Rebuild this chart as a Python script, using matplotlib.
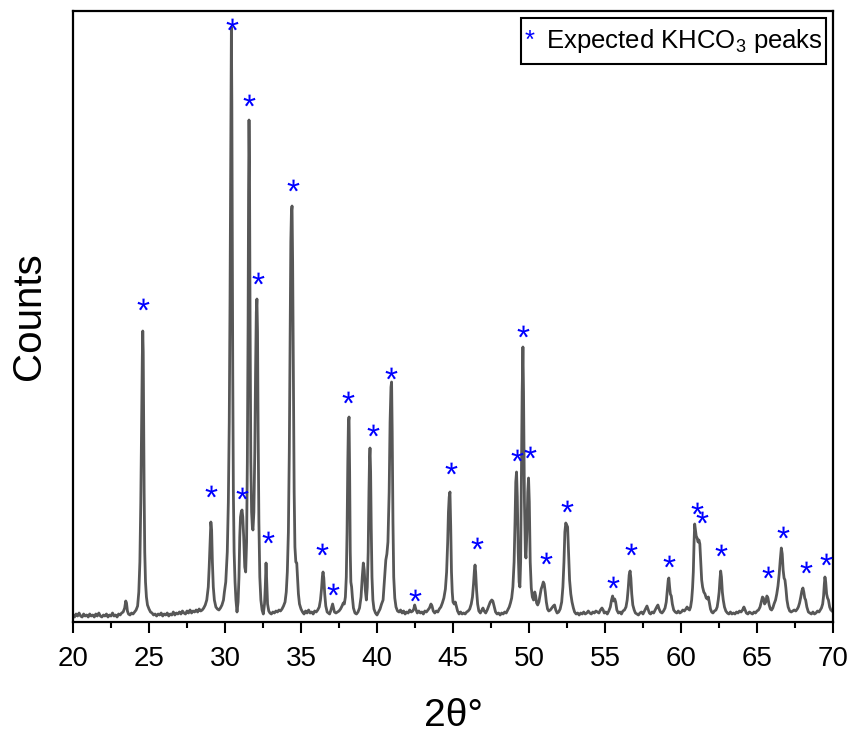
import numpy as np
import matplotlib
matplotlib.use("Agg")
import matplotlib.pyplot as plt
from matplotlib.path import Path
from matplotlib.textpath import TextPath
from matplotlib.font_manager import FontProperties
from matplotlib.offsetbox import TextArea, HPacker, VPacker, DrawingArea, AnchoredOffsetbox
from matplotlib.ticker import MultipleLocator

plt.rcParams['font.family'] = ['Liberation Sans', 'DejaVu Sans']
plt.rcParams['mathtext.fontset'] = 'custom'
plt.rcParams['mathtext.rm'] = 'Liberation Sans'
plt.rcParams['mathtext.it'] = 'Liberation Sans:italic'
plt.rcParams['mathtext.bf'] = 'Liberation Sans:bold'
plt.rcParams['mathtext.default'] = 'regular'

# ---- XRD pattern, 2theta (deg) and counts, split by angular range ----
theta_20_30 = [20.0, 20.1, 20.2, 20.3, 20.4, 20.5, 20.6, 20.7, 20.8, 20.9,
               21.0, 21.1, 21.2, 21.3, 21.4, 21.5, 21.6, 21.7, 21.8, 21.9,
               22.0, 22.1, 22.2, 22.3, 22.4, 22.5, 22.6, 22.7, 22.8, 22.9,
               23.0, 23.1, 23.2, 23.3, 23.4, 23.47, 23.52, 23.58, 23.65, 23.75,
               23.85, 23.95, 24.05, 24.15, 24.25, 24.33, 24.4, 24.46, 24.5, 24.53,
               24.56, 24.59, 24.62, 24.65, 24.68, 24.72, 24.77, 24.83, 24.9, 25.0,
               25.1, 25.2, 25.3, 25.4, 25.5, 25.6, 25.7, 25.8, 25.9, 26.0,
               26.1, 26.2, 26.3, 26.4, 26.5, 26.6, 26.7, 26.8, 26.9, 27.0,
               27.1, 27.2, 27.3, 27.4, 27.5, 27.6, 27.7, 27.8, 27.9, 28.0,
               28.1, 28.2, 28.3, 28.4, 28.5, 28.6, 28.7, 28.8, 28.9, 28.96,
               29.02, 29.07, 29.12, 29.17, 29.23, 29.3, 29.4, 29.5, 29.6, 29.7,
               29.8, 29.9, 29.96]
counts_20_30 = [7, 5, 8, 6, 9, 6, 5, 8, 6, 7,
                5, 8, 6, 7, 5, 8, 6, 9, 6, 5,
                7, 6, 8, 5, 7, 6, 9, 6, 7, 5,
                8, 7, 9, 10, 14, 21, 19, 11, 8, 7,
                9, 8, 10, 12, 16, 30, 60, 120, 180, 220,
                265, 291, 270, 200, 130, 70, 40, 25, 17, 13,
                10, 9, 7, 8, 6, 8, 7, 9, 6, 8,
                7, 9, 6, 8, 7, 10, 7, 9, 8, 10,
                8, 11, 9, 8, 11, 9, 12, 9, 11, 10,
                12, 10, 13, 11, 12, 14, 17, 22, 35, 55,
                80, 100, 92, 60, 35, 22, 15, 13, 12, 14,
                17, 22, 30]

theta_30_36 = [30.05, 30.15, 30.22, 30.28, 30.33, 30.37, 30.42, 30.45, 30.48, 30.51,
               30.55, 30.6, 30.66, 30.72, 30.79, 30.86, 30.92, 30.97, 31.02, 31.07,
               31.12, 31.17, 31.23, 31.3, 31.36, 31.42, 31.47, 31.52, 31.55, 31.58,
               31.61, 31.65, 31.7, 31.75, 31.8, 31.84, 31.9, 31.96, 32.01, 32.06,
               32.1, 32.14, 32.18, 32.23, 32.29, 32.36, 32.44, 32.52, 32.6, 32.65,
               32.7, 32.75, 32.8, 32.88, 32.96, 33.05, 33.15, 33.25, 33.35, 33.45,
               33.55, 33.65, 33.75, 33.85, 33.95, 34.03, 34.1, 34.17, 34.23, 34.28,
               34.33, 34.37, 34.41, 34.45, 34.5, 34.55, 34.6, 34.66, 34.72, 34.77,
               34.83, 34.9, 35.0, 35.1, 35.2, 35.3, 35.4, 35.5, 35.6, 35.7,
               35.8, 35.9, 36.0]
counts_30_36 = [40, 70, 120, 200, 320, 450, 595, 520, 380, 250,
                130, 70, 40, 22, 10, 20, 45, 85, 105, 110,
                112, 105, 85, 55, 50, 80, 160, 300, 430, 502,
                460, 300, 160, 110, 95, 92, 110, 170, 250, 310,
                323, 290, 190, 100, 45, 22, 12, 8, 18, 35,
                59, 38, 18, 11, 9, 8, 10, 9, 11, 10,
                12, 11, 13, 16, 20, 30, 50, 90, 170, 280,
                380, 410, 416, 360, 240, 130, 75, 60, 59, 45,
                28, 18, 13, 10, 8, 11, 9, 12, 9, 10,
                8, 11, 10]

theta_36_44 = [36.1, 36.2, 36.28, 36.35, 36.41, 36.45, 36.5, 36.56, 36.63, 36.72,
               36.8, 36.88, 36.95, 37.02, 37.08, 37.14, 37.2, 37.3, 37.4, 37.5,
               37.6, 37.7, 37.78, 37.85, 37.92, 37.98, 38.03, 38.08, 38.12, 38.16,
               38.2, 38.24, 38.28, 38.33, 38.38, 38.45, 38.55, 38.65, 38.75, 38.85,
               38.95, 39.03, 39.1, 39.16, 39.23, 39.3, 39.36, 39.42, 39.47, 39.51,
               39.54, 39.58, 39.62, 39.67, 39.73, 39.8, 39.9, 40.0, 40.1, 40.2,
               40.3, 40.4, 40.5, 40.58, 40.65, 40.72, 40.8, 40.86, 40.92, 40.96,
               41.0, 41.05, 41.1, 41.17, 41.25, 41.35, 41.45, 41.55, 41.65, 41.75,
               41.85, 41.95, 42.05, 42.15, 42.25, 42.35, 42.42, 42.48, 42.55, 42.65,
               42.75, 42.85, 42.95, 43.05, 43.15, 43.25, 43.35, 43.45, 43.55, 43.62,
               43.7, 43.8, 43.9]
counts_36_44 = [12, 15, 22, 33, 46, 50, 44, 28, 16, 10,
                9, 8, 11, 15, 18, 14, 10, 9, 10, 11,
                13, 16, 19, 18, 25, 45, 90, 160, 200, 205,
                150, 70, 40, 35, 25, 14, 9, 8, 10, 14,
                25, 45, 59, 52, 32, 22, 35, 70, 130, 165,
                174, 150, 95, 45, 22, 13, 9, 7, 10, 13,
                18, 22, 45, 62, 68, 80, 130, 200, 235, 240,
                190, 100, 45, 24, 15, 11, 10, 12, 9, 11,
                8, 10, 9, 12, 10, 11, 13, 17, 13, 9,
                11, 9, 10, 8, 11, 10, 12, 14, 18, 16,
                11, 9, 11]

theta_44_53 = [44.0, 44.1, 44.2, 44.3, 44.4, 44.5, 44.58, 44.65, 44.7, 44.75,
               44.8, 44.85, 44.9, 44.95, 45.0, 45.08, 45.15, 45.22, 45.3, 45.4,
               45.5, 45.6, 45.7, 45.8, 45.9, 46.0, 46.1, 46.2, 46.28, 46.35,
               46.41, 46.45, 46.49, 46.55, 46.62, 46.7, 46.8, 46.9, 46.97, 47.05,
               47.15, 47.25, 47.35, 47.45, 47.55, 47.62, 47.7, 47.8, 47.9, 48.0,
               48.1, 48.2, 48.3, 48.4, 48.5, 48.6, 48.7, 48.78, 48.86, 48.94,
               49.02, 49.08, 49.13, 49.18, 49.23, 49.29, 49.35, 49.4, 49.45, 49.5,
               49.55, 49.6, 49.64, 49.7, 49.76, 49.8, 49.86, 49.92, 49.97, 50.02,
               50.08, 50.15, 50.22, 50.3, 50.38, 50.44, 50.5, 50.57, 50.65, 50.72,
               50.8, 50.87, 50.94, 51.0, 51.07, 51.14, 51.22, 51.3, 51.4, 51.5,
               51.6, 51.68, 51.76, 51.85, 51.95, 52.05, 52.15, 52.23, 52.3, 52.36,
               52.42, 52.48, 52.54, 52.6, 52.67, 52.75, 52.83, 52.92]
counts_44_53 = [10, 13, 15, 19, 24, 33, 50, 80, 110, 125,
                130, 95, 50, 30, 20, 18, 20, 16, 11, 8,
                10, 8, 9, 8, 10, 11, 13, 18, 25, 38,
                52, 57, 50, 32, 18, 11, 9, 12, 14, 11,
                9, 12, 16, 20, 22, 21, 16, 10, 8, 9,
                7, 9, 8, 10, 9, 12, 15, 19, 24, 35,
                60, 100, 140, 150, 125, 70, 40, 35, 60, 140,
                230, 275, 230, 120, 70, 64, 90, 130, 144, 120,
                60, 34, 25, 22, 30, 26, 19, 17, 20, 26,
                33, 36, 40, 38, 30, 20, 13, 11, 12, 14,
                16, 17, 12, 9, 10, 13, 20, 35, 60, 90,
                99, 97, 95, 70, 42, 28, 20, 14]

theta_53_62 = [53.0, 53.1, 53.2, 53.3, 53.4, 53.5, 53.6, 53.7, 53.8, 53.9,
               54.0, 54.1, 54.2, 54.3, 54.4, 54.5, 54.6, 54.7, 54.8, 54.88,
               54.95, 55.05, 55.15, 55.25, 55.35, 55.43, 55.5, 55.57, 55.64, 55.7,
               55.78, 55.88, 55.98, 56.08, 56.18, 56.28, 56.38, 56.46, 56.53, 56.59,
               56.65, 56.7, 56.76, 56.83, 56.92, 57.0, 57.1, 57.2, 57.3, 57.4,
               57.5, 57.6, 57.7, 57.76, 57.83, 57.92, 58.0, 58.1, 58.2, 58.3,
               58.4, 58.48, 58.56, 58.65, 58.75, 58.85, 58.95, 59.03, 59.1, 59.16,
               59.2, 59.25, 59.3, 59.36, 59.43, 59.52, 59.62, 59.72, 59.82, 59.92,
               60.02, 60.12, 60.22, 60.32, 60.4, 60.48, 60.56, 60.63, 60.7, 60.76,
               60.81, 60.86, 60.9, 60.95, 61.0, 61.06, 61.12, 61.18, 61.24, 61.3,
               61.36, 61.42, 61.5, 61.58, 61.66, 61.74, 61.8, 61.86, 61.94]
counts_53_62 = [10, 8, 9, 7, 9, 8, 10, 8, 9, 11,
                9, 8, 10, 9, 11, 10, 9, 12, 14, 12,
                9, 10, 8, 11, 15, 22, 26, 21, 23, 20,
                12, 9, 10, 8, 11, 12, 15, 22, 34, 47,
                51, 44, 28, 17, 12, 9, 8, 7, 9, 10,
                8, 11, 14, 16, 13, 9, 8, 10, 9, 12,
                15, 17, 13, 10, 9, 11, 14, 20, 32, 42,
                44, 35, 28, 26, 18, 12, 10, 9, 11, 9,
                10, 12, 11, 13, 15, 13, 12, 15, 22, 34,
                50, 80, 98, 92, 86, 84, 80, 82, 78, 60,
                42, 35, 30, 28, 24, 23, 25, 20, 13]

theta_62_70 = [62.02, 62.1, 62.2, 62.3, 62.38, 62.45, 62.51, 62.56, 62.61, 62.66,
               62.72, 62.78, 62.86, 62.95, 63.05, 63.15, 63.25, 63.35, 63.45, 63.55,
               63.65, 63.75, 63.85, 63.95, 64.05, 64.14, 64.22, 64.3, 64.4, 64.5,
               64.6, 64.7, 64.8, 64.9, 65.0, 65.1, 65.2, 65.28, 65.36, 65.42,
               65.5, 65.58, 65.65, 65.72, 65.8, 65.88, 65.96, 66.04, 66.12, 66.22,
               66.3, 66.38, 66.46, 66.53, 66.6, 66.66, 66.72, 66.78, 66.84, 66.9,
               66.97, 67.05, 67.15, 67.25, 67.35, 67.45, 67.55, 67.65, 67.72, 67.8,
               67.88, 67.95, 68.02, 68.08, 68.14, 68.2, 68.28, 68.38, 68.48, 68.58,
               68.68, 68.78, 68.88, 68.98, 69.08, 69.16, 69.24, 69.32, 69.38, 69.43,
               69.47, 69.52, 69.58, 69.64, 69.7, 69.78, 69.86, 69.94, 70.0]
counts_62_70 = [10, 9, 11, 12, 15, 22, 30, 42, 51, 45,
                30, 22, 15, 11, 9, 8, 10, 8, 9, 8,
                10, 9, 11, 10, 12, 15, 12, 9, 8, 10,
                9, 8, 10, 9, 11, 12, 15, 20, 25, 24,
                18, 20, 26, 24, 17, 13, 12, 14, 18, 22,
                28, 36, 48, 62, 74, 68, 52, 44, 42, 34,
                22, 15, 11, 10, 11, 12, 11, 13, 15, 19,
                25, 31, 34, 30, 24, 22, 15, 10, 9, 8,
                10, 8, 9, 11, 10, 12, 14, 18, 26, 38,
                45, 40, 28, 24, 22, 15, 12, 11, 10]

# ---- positions of the expected KHCO3 reflections (asterisks) ----
star_theta = [24.61, 29.08, 30.46, 31.12, 31.58, 32.17, 32.83, 34.47, 36.38, 37.11,
              38.09, 39.74, 40.92, 42.5, 44.87, 46.58, 49.21, 49.61, 50.07, 51.12,
              52.5, 55.53, 56.71, 59.21, 61.05, 61.38, 62.63, 65.72, 66.71, 68.22,
              69.54]
star_counts = [318, 131, 598, 129, 522, 344, 85, 437, 73, 33,
               225, 192, 249, 27, 154, 79, 167, 291, 170, 64,
               116, 40, 73, 61, 114, 105, 72, 50, 90, 55,
               63]

two_theta = np.concatenate([theta_20_30, theta_30_36, theta_36_44,
                            theta_44_53, theta_53_62, theta_62_70])
counts = np.concatenate([counts_20_30, counts_30_36, counts_36_44,
                         counts_44_53, counts_53_62, counts_62_70])

# asterisk glyph as a centred marker path
_glyph = TextPath((0, 0), '*', prop=FontProperties(family='Liberation Sans'), size=10)
_ext = _glyph.get_extents()
_cx, _cy = (_ext.x0 + _ext.x1) / 2, (_ext.y0 + _ext.y1) / 2
_verts = _glyph.vertices.copy() - [_cx, _cy]
_codes = _glyph.codes.copy()
_verts[_codes == Path.CLOSEPOLY] = 0.0
star_marker = Path(_verts, _codes)

fig = plt.figure(figsize=(8.52, 7.38), dpi=100)
ax = fig.add_axes([73 / 852, 1 - 622 / 738, 760 / 852, 611 / 738])

ax.plot(two_theta, counts, color='#575757', lw=2.0, solid_joinstyle='round', zorder=2)
ax.scatter(star_theta, star_counts, marker=star_marker, s=8.6 ** 2,
           c='#0000ff', linewidths=0, zorder=3)

ax.set_xlim(20, 70)
ax.set_ylim(0, 611)
ax.xaxis.set_major_locator(MultipleLocator(5))
ax.xaxis.set_minor_locator(MultipleLocator(2.5))
ax.set_yticks([])
ax.tick_params(axis='x', which='major', direction='out', length=8, width=1.5,
               labelsize=20, pad=9, color='black')
ax.tick_params(axis='x', which='minor', direction='out', length=4.5, width=1.5)
for sp in ax.spines.values():
    sp.set_linewidth(1.6)
    sp.set_color('black')

ax.set_xlabel('2θ°', fontsize=28, labelpad=19)
ax.set_ylabel('Counts', fontsize=29, labelpad=18)

# legend box: blue asterisk followed by the label
star_txt = TextArea('*', textprops=dict(color='#0000ff', fontsize=18.5))
lab_txt = TextArea('Expected KHCO$_3$ peaks', textprops=dict(color='black', fontsize=18.5))
row = HPacker(children=[star_txt, lab_txt], align='baseline', pad=0, sep=8)
packed = VPacker(children=[DrawingArea(1, 4), row, DrawingArea(1, 4)],
                 align='left', pad=0, sep=0)
legend_box = AnchoredOffsetbox(loc='upper right', child=packed, pad=0.25,
                               borderpad=0.5, frameon=True)
legend_box.patch.set_boxstyle('square', pad=0)
legend_box.patch.set_edgecolor('black')
legend_box.patch.set_linewidth(1.5)
ax.add_artist(legend_box)

fig.savefig('out.png', dpi=100)
